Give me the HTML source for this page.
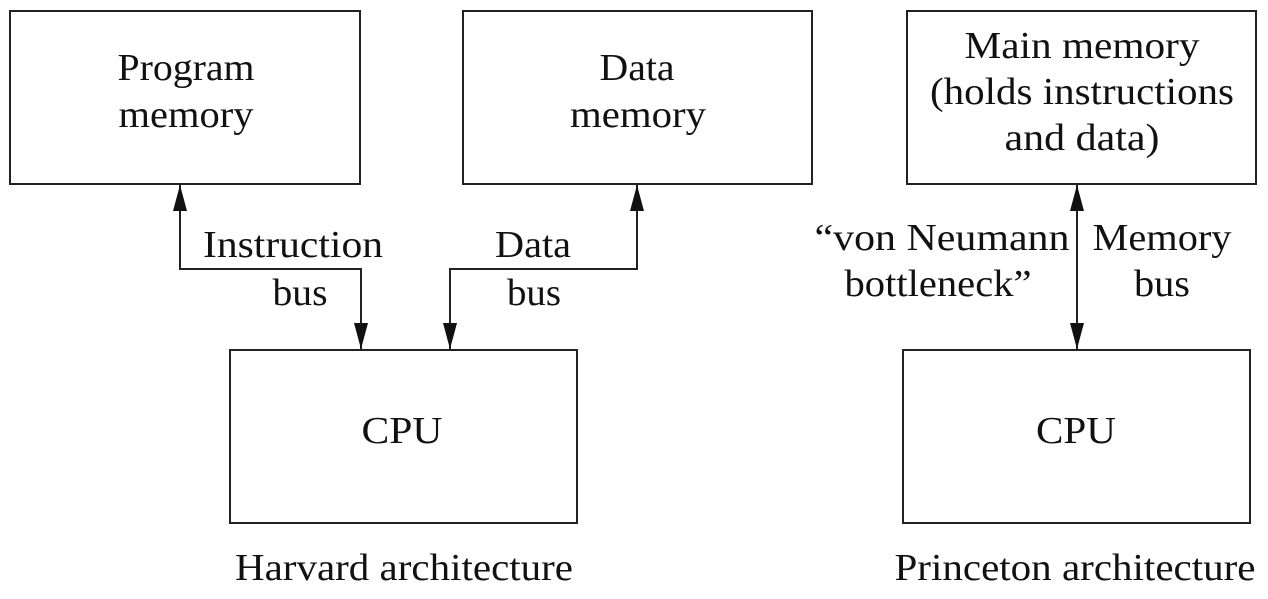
<!DOCTYPE html>
<html><head><style>
body{margin:0;background:#fff}
svg text{font-family:"Liberation Serif",serif;font-size:38px;fill:#111}
</style></head><body>
<svg width="1268" height="594" viewBox="0 0 1268 594" xmlns="http://www.w3.org/2000/svg">
<defs><marker id="a" markerWidth="26" markerHeight="14" refX="26" refY="7" orient="auto-start-reverse" markerUnits="userSpaceOnUse" viewBox="0 0 26 14"><path d="M0,0 L26,7 L0,14 z" fill="#111"/></marker></defs>
<g fill="none" stroke="#222" stroke-width="2">
<rect x="10" y="11" width="350" height="173"/>
<rect x="463" y="11" width="349" height="173"/>
<rect x="907" y="11" width="349" height="173"/>
<rect x="230" y="350" width="347" height="173"/>
<rect x="903" y="350" width="347" height="173"/>
<path d="M361,349 L361,269 L180,269 L180,185" marker-end="url(#a)" marker-start="url(#a)"/>
<path d="M450,349 L450,269 L637,269 L637,185" marker-end="url(#a)" marker-start="url(#a)"/>
<path d="M1077,349 L1077,185" marker-end="url(#a)" marker-start="url(#a)"/>
</g>
<g text-anchor="middle">
<text lengthAdjust="spacingAndGlyphs" x="186" y="80" textLength="137">Program</text><text lengthAdjust="spacingAndGlyphs" x="186" y="127" textLength="135">memory</text>
<text lengthAdjust="spacingAndGlyphs" x="637" y="80" textLength="75">Data</text><text lengthAdjust="spacingAndGlyphs" x="638" y="127" textLength="136">memory</text>
<text lengthAdjust="spacingAndGlyphs" x="1082" y="58" textLength="235">Main memory</text><text lengthAdjust="spacingAndGlyphs" x="1082" y="104" textLength="304">(holds instructions</text><text lengthAdjust="spacingAndGlyphs" x="1082" y="150" textLength="155">and data)</text>
<text lengthAdjust="spacingAndGlyphs" x="293" y="257" textLength="180">Instruction</text><text lengthAdjust="spacingAndGlyphs" x="300" y="305" textLength="55">bus</text>
<text lengthAdjust="spacingAndGlyphs" x="533" y="257" textLength="76">Data</text><text lengthAdjust="spacingAndGlyphs" x="534" y="305" textLength="54">bus</text>
<text lengthAdjust="spacingAndGlyphs" x="942" y="250" textLength="255">“von Neumann</text><text lengthAdjust="spacingAndGlyphs" x="938" y="296" textLength="187">bottleneck”</text>
<text lengthAdjust="spacingAndGlyphs" x="1162" y="250" textLength="139">Memory</text><text lengthAdjust="spacingAndGlyphs" x="1162" y="296" textLength="56">bus</text>
<text lengthAdjust="spacingAndGlyphs" x="402" y="443" textLength="81">CPU</text>
<text lengthAdjust="spacingAndGlyphs" x="1076" y="443" textLength="80">CPU</text>
<text lengthAdjust="spacingAndGlyphs" x="404" y="580" textLength="338">Harvard architecture</text>
<text lengthAdjust="spacingAndGlyphs" x="1075" y="580" textLength="361">Princeton architecture</text>
</g>
</svg>
</body></html>
